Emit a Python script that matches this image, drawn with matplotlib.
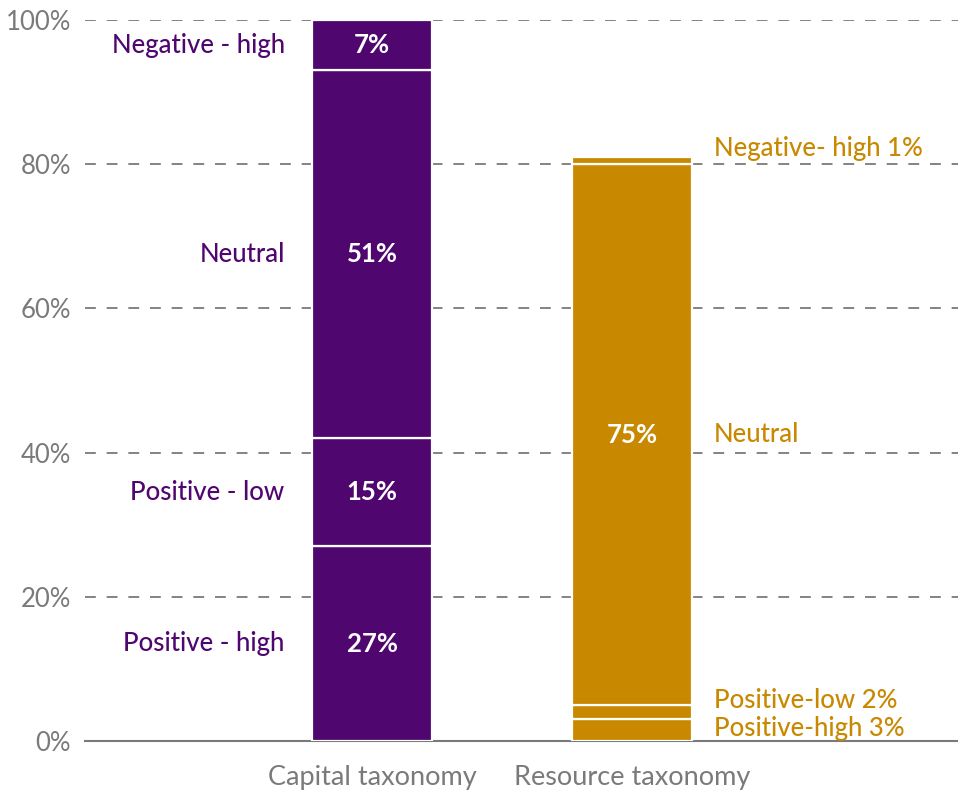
import matplotlib
matplotlib.use("Agg")
import matplotlib.pyplot as plt
import numpy as np

categories = ["Capital taxonomy", "Resource taxonomy"]
segments = ["Positive - high", "Positive - low", "Neutral", "Negative - high"]
capital_values = [27, 15, 51, 7]
resource_values = [3, 2, 75, 1]
resource_labels = ["Positive-high", "Positive-low", "Neutral", "Negative- high"]
y_ticks = [0, 20, 40, 60, 80, 100]

PURPLE = "#50066f"
GOLD = "#c88800"
GREY = "#7a7a7a"
FS = 18.5

plt.rcParams["font.family"] = ["Lato", "DejaVu Sans"]

fig = plt.figure(figsize=(9.58, 7.91), dpi=100)
ax = fig.add_axes([85 / 958, 1 - 741 / 791, 1 - 85 / 958, (741 - 20) / 791])

x = np.arange(len(categories))
width = 0.458

series = [capital_values, resource_values]
colors = [PURPLE, GOLD]
for xi, vals, col in zip(x, series, colors):
    bottom = 0
    for v in vals:
        ax.bar(xi, v, width, bottom=bottom, color=col, edgecolor="white",
               linewidth=1.6, zorder=3)
        bottom += v

ax.set_xlim(-1.104, 2.254)
ax.set_ylim(0, 100)

# Capital bar: category names on the left, values inside
bottom = 0
for name, v in zip(segments, capital_values):
    mid = bottom + v / 2
    ax.text(x[0], mid, f"{v}%", ha="center", va="center", color="white",
            fontsize=FS, fontweight="bold", zorder=4)
    ax.annotate(name, (x[0] - width / 2, mid), xytext=(-20, 0),
                textcoords="offset points", ha="right", va="center",
                color=PURPLE, fontsize=FS, fontweight="medium")
    bottom += v

# Resource bar: labels on the right
cum = np.cumsum([0] + resource_values)
offsets = [1, 8.5, 0, 9]
for i, (name, v) in enumerate(zip(resource_labels, resource_values)):
    mid = cum[i] + v / 2
    label = name if name == "Neutral" else f"{name} {v}%"
    ax.annotate(label, (x[1] + width / 2, mid), xytext=(16, offsets[i]),
                textcoords="offset points", ha="left", va="center",
                color=GOLD, fontsize=FS, fontweight="medium")
ax.text(x[1], cum[2] + resource_values[2] / 2, f"{resource_values[2]}%",
        ha="center", va="center", color="white", fontsize=FS,
        fontweight="bold", zorder=4)

# Axes styling
for s in ["top", "right", "left"]:
    ax.spines[s].set_visible(False)
ax.spines["bottom"].set_color(GREY)
ax.spines["bottom"].set_linewidth(1.5)

ax.set_yticks(y_ticks)
ax.set_yticklabels([f"{t}%" for t in y_ticks], color=GREY, fontsize=FS)
ax.tick_params(axis="y", length=0, pad=10)
ax.set_xticks(x)
ax.set_xticklabels(categories, color=GREY, fontsize=19.5)
ax.tick_params(axis="x", length=0, pad=17)

for t in y_ticks[1:]:
    ax.axhline(t, color=GREY, linestyle=(0, (6, 6)), linewidth=1.3, zorder=1)

fig.savefig("out.png", dpi=100)
